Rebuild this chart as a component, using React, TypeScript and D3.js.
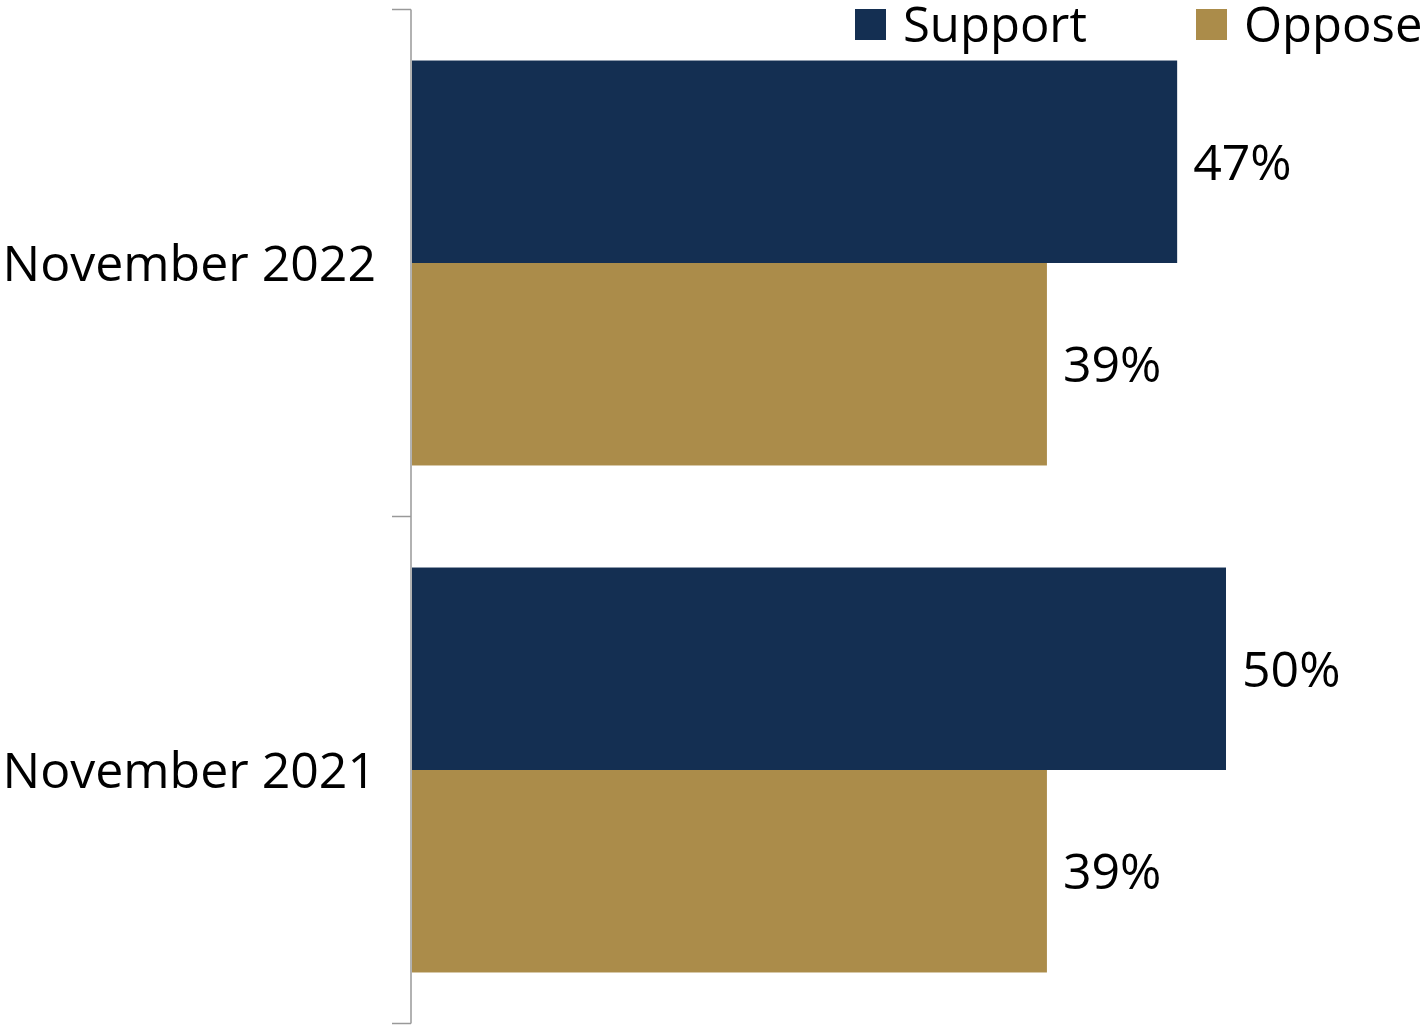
import React from "react";
import * as d3 from "d3";

const categories = ["November 2022", "November 2021"];
const seriesNames = ["Support", "Oppose"];
const supportValues = [47, 50];
const opposeValues = [39, 39];
const seriesColors = ["#142F52", "#AB8C4A"];

const W = 1426;
const H = 1027;
const FONT = "'Open Sans', 'Noto Sans', sans-serif";

export default function App() {
  const x = d3.scaleLinear().domain([0, 62]).range([412, 412 + 62 * 16.28]);
  const y = d3.scaleBand().domain(categories).range([9.5, 1023.5]).padding(0);
  const inner = d3
    .scaleBand()
    .domain(seriesNames)
    .range([0, y.bandwidth()])
    .paddingInner(0)
    .paddingOuter(0.252);

  const values = [supportValues, opposeValues];
  const bars = categories.flatMap((c, ci) =>
    seriesNames.map((s, si) => ({ c, s, v: values[si][ci], color: seriesColors[si] }))
  );

  const axisX = 411;
  const tickYs = [...categories.map((c) => y(c)!), y.range()[1]];

  return (
    <svg width={W} height={H} style={{ display: "block", position: "absolute", left: 0, top: 0 }}>
      <rect width={W} height={H} fill="#fff" />
      {bars.map((b) => {
        const by = y(b.c)! + inner(b.s)!;
        const bh = inner.bandwidth();
        return (
          <g key={b.c + b.s}>
            <rect x={x(0)} y={by} width={x(b.v) - x(0)} height={bh} fill={b.color} />
            <text
              x={x(b.v) + 16}
              y={by + bh / 2}
              dy="0.36em"
              fontFamily={FONT}
              fontSize={50}
              fill="#000"
            >
              {b.v}%
            </text>
          </g>
        );
      })}
      <line x1={axisX} x2={axisX} y1={tickYs[0]} y2={tickYs[tickYs.length - 1]} stroke="#999" strokeWidth={1.5} />
      {tickYs.map((t, i) => (
        <line key={i} x1={392} x2={axisX} y1={t} y2={t} stroke="#999" strokeWidth={1.5} />
      ))}
      {categories.map((c) => (
        <text
          key={c}
          x={376}
          y={y(c)! + y.bandwidth() / 2}
          dy="0.36em"
          textAnchor="end"
          fontFamily={FONT}
          fontSize={50}
          fill="#000"
        >
          {c}
        </text>
      ))}
      {seriesNames.map((s, i) => {
        const lx = [855, 1196][i];
        return (
          <g key={s}>
            <rect x={lx} y={9} width={31} height={31} fill={seriesColors[i]} />
            <text x={lx + 48} y={24.5} dy="0.36em" fontFamily={FONT} fontSize={49} fill="#000">
              {s}
            </text>
          </g>
        );
      })}
    </svg>
  );
}
